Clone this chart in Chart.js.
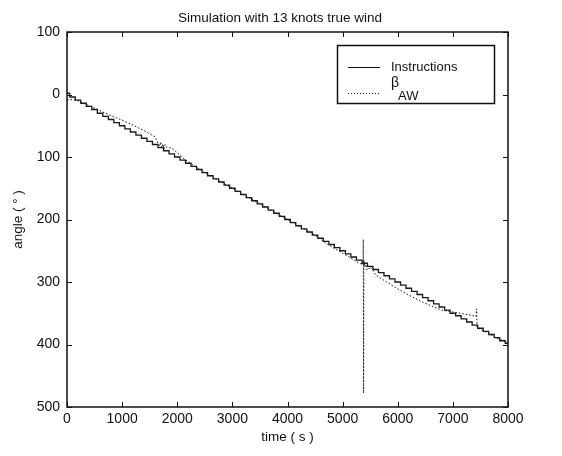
<!DOCTYPE html>
<html>
<head>
<meta charset="utf-8">
<script src="https://cdn.jsdelivr.net/npm/chart.js@4.4.0/dist/chart.umd.min.js"></script>
<style>
  html, body { margin: 0; padding: 0; background: #fff; }
  #zone { width: 562px; height: 456px; }
</style>
</head>
<body>
<div id="zone"><canvas id="grafico"></canvas></div>
<script>
/* ** Datos ** */
const tiemposInstr = [0, 100, 200, 300, 400, 500, 600, 700, 800, 900, 1000,
  1100, 1200, 1300, 1400, 1500, 1600, 1700, 1800, 1900, 2000,
  2100, 2200, 2300, 2400, 2500, 2600, 2700, 2800, 2900, 3000,
  3100, 3200, 3300, 3400, 3500, 3600, 3700, 3800, 3900, 4000,
  4100, 4200, 4300, 4400, 4500, 4600, 4700, 4800, 4900, 5000,
  5100, 5200, 5300, 5400, 5500, 5600, 5700, 5800, 5900, 6000,
  6100, 6200, 6300, 6400, 6500, 6600, 6700, 6800, 6900, 7000,
  7100, 7200, 7300, 7400, 7500, 7600, 7700, 7800, 7900, 8000];
const instrucciones = [-2, 4, 9, 14, 19, 24, 30, 35, 40, 45, 50,
  55, 60, 65, 70, 75, 80, 85, 90, 95, 100,
  105, 110, 115, 120, 125, 130, 135, 140, 145, 150,
  155, 160, 165, 170, 175, 180, 185, 190, 195, 200,
  205, 210, 215, 220, 225, 230, 235, 240, 245, 250,
  255, 260, 265, 270, 275, 280, 285, 290, 295, 300,
  305, 310, 315, 320, 325, 330, 335, 340, 345, 350,
  354, 359, 364, 369, 374, 379, 384, 389, 394, 398];

const tiemposBeta = [0, 100, 200, 300, 400, 600, 800, 1000, 1200, 1400, 1600, 1650, 1680, 1700, 1720, 1740,
  1760, 1780, 1800, 1900, 2000, 2100, 2200, 2500, 3000, 3500, 4000, 4500, 4700, 4900, 5100, 5300,
  5370, 5375, 5380, 5385, 5400, 5420, 5440, 5460, 5480, 5500, 5550, 5600, 5800, 6000, 6200, 6400,
  6600, 6800, 7000, 7200, 7420, 7430, 7440, 7600, 7800, 8000];
const betaAW = [9, 8, 10, 14, 18, 26, 34, 41, 49, 58, 68, 78, 83, 76, 85, 79,
  87, 80, 84, 86, 93, 101, 108, 125, 150, 175, 200, 225, 238, 249, 259, 270,
  272, 232, 478, 265, 276, 272, 280, 274, 279, 276, 281, 289, 300, 311, 321, 330,
  338, 345, 348, 351, 355, 343, 373, 380, 390, 397];

const ticksX = [0, 1000, 2000, 3000, 4000, 5000, 6000, 7000, 8000];
const ticksY = [-100, 0, 100, 200, 300, 400, 500];

const fuente = "'Liberation Sans', Arial, sans-serif";

/* ** Marcas interiores, marco y leyenda ** */
const marco = {
  id: 'marco',
  afterDraw(chart) {
    const c = chart.ctx;
    const a = chart.chartArea;
    const sx = chart.scales.x;
    const sy = chart.scales.y;
    c.save();
    c.strokeStyle = '#111';
    c.lineWidth = 1;
    c.beginPath();
    ticksX.forEach(v => {
      const px = Math.round(sx.getPixelForValue(v)) + 0.5;
      c.moveTo(px, a.bottom); c.lineTo(px, a.bottom - 5);
      c.moveTo(px, a.top); c.lineTo(px, a.top + 5);
    });
    ticksY.forEach(v => {
      const py = Math.round(sy.getPixelForValue(v)) + 0.5;
      c.moveTo(a.left, py); c.lineTo(a.left + 5, py);
      c.moveTo(a.right, py); c.lineTo(a.right - 5, py);
    });
    c.stroke();
    c.lineWidth = 1.5;
    c.strokeRect(a.left, a.top, a.right - a.left, a.bottom - a.top);

    // leyenda
    c.lineWidth = 1.5;
    c.strokeRect(337.5, 45.5, 157, 58);
    c.lineWidth = 1;
    c.beginPath();
    c.moveTo(348, 67.5); c.lineTo(380, 67.5);
    c.stroke();
    c.setLineDash([1, 2]);
    c.beginPath();
    c.moveTo(348, 93.5); c.lineTo(380, 93.5);
    c.stroke();
    c.setLineDash([]);
    c.fillStyle = '#111';
    c.textBaseline = 'middle';
    c.font = '13px ' + fuente;
    c.fillText('Instructions', 391, 67);
    c.font = '14px ' + fuente;
    c.fillText('β', 391, 83);
    c.font = '13px ' + fuente;
    c.fillText('AW', 398, 96);
    c.restore();
  }
};

const ctx = document.getElementById('grafico');
const grafico = new Chart(ctx, {
  type: 'line',
  data: {
    datasets: [{
      label: 'Instructions',
      data: tiemposInstr.map((t, i) => ({ x: t, y: instrucciones[i] })),
      borderColor: '#1a1a1a',
      borderWidth: 1.3,
      stepped: 'middle',
      pointRadius: 0,
      fill: false
    }, {
      label: 'βAW',
      data: tiemposBeta.map((t, i) => ({ x: t, y: betaAW[i] })),
      borderColor: '#111',
      borderWidth: 1,
      borderDash: [1.5, 2],
      pointRadius: 0,
      fill: false,
      clip: false
    }]
  },
  options: {
    responsive: true,
    maintainAspectRatio: false,
    animation: false,
    layout: { padding: { top: 32, right: 54, left: 0, bottom: 0 } },
    plugins: {
      legend: { display: false },
      tooltip: { enabled: false },
      title: { display: false }
    },
    scales: {
      x: {
        type: 'linear',
        min: 0, max: 8000,
        afterFit(s) { s.height = 49; },
        afterBuildTicks(s) { s.ticks = ticksX.map(v => ({ value: v })); },
        grid: { display: false, drawTicks: false },
        border: { display: false },
        ticks: { color: '#111', font: { family: fuente, size: 14 }, padding: 4, maxRotation: 0, callback: v => String(v) },
        title: { display: true, text: 'time ( s )', color: '#111', font: { family: fuente, size: 13.5 }, padding: { top: 4, bottom: 11 } }
      },
      y: {
        min: -100, max: 500,
        reverse: true,
        afterFit(s) { s.width = 67; },
        afterBuildTicks(s) { s.ticks = ticksY.map(v => ({ value: v })); },
        grid: { display: false, drawTicks: false },
        border: { display: false },
        ticks: { color: '#111', font: { family: fuente, size: 14 }, padding: 7, callback: v => String(Math.abs(v)) },
        title: { display: true, text: 'angle ( ° )', color: '#111', font: { family: fuente, size: 13.5 }, padding: { top: 10, bottom: 4 } }
      }
    }
  },
  plugins: [marco, {
    id: 'titulo',
    afterDraw(chart) {
      const c = chart.ctx;
      c.save();
      c.fillStyle = '#111';
      c.font = '13.5px ' + fuente;
      c.textAlign = 'center';
      c.textBaseline = 'middle';
      c.fillText('Simulation with 13 knots true wind', 280, 18);
      c.restore();
    }
  }]
});
</script>
</body>
</html>
